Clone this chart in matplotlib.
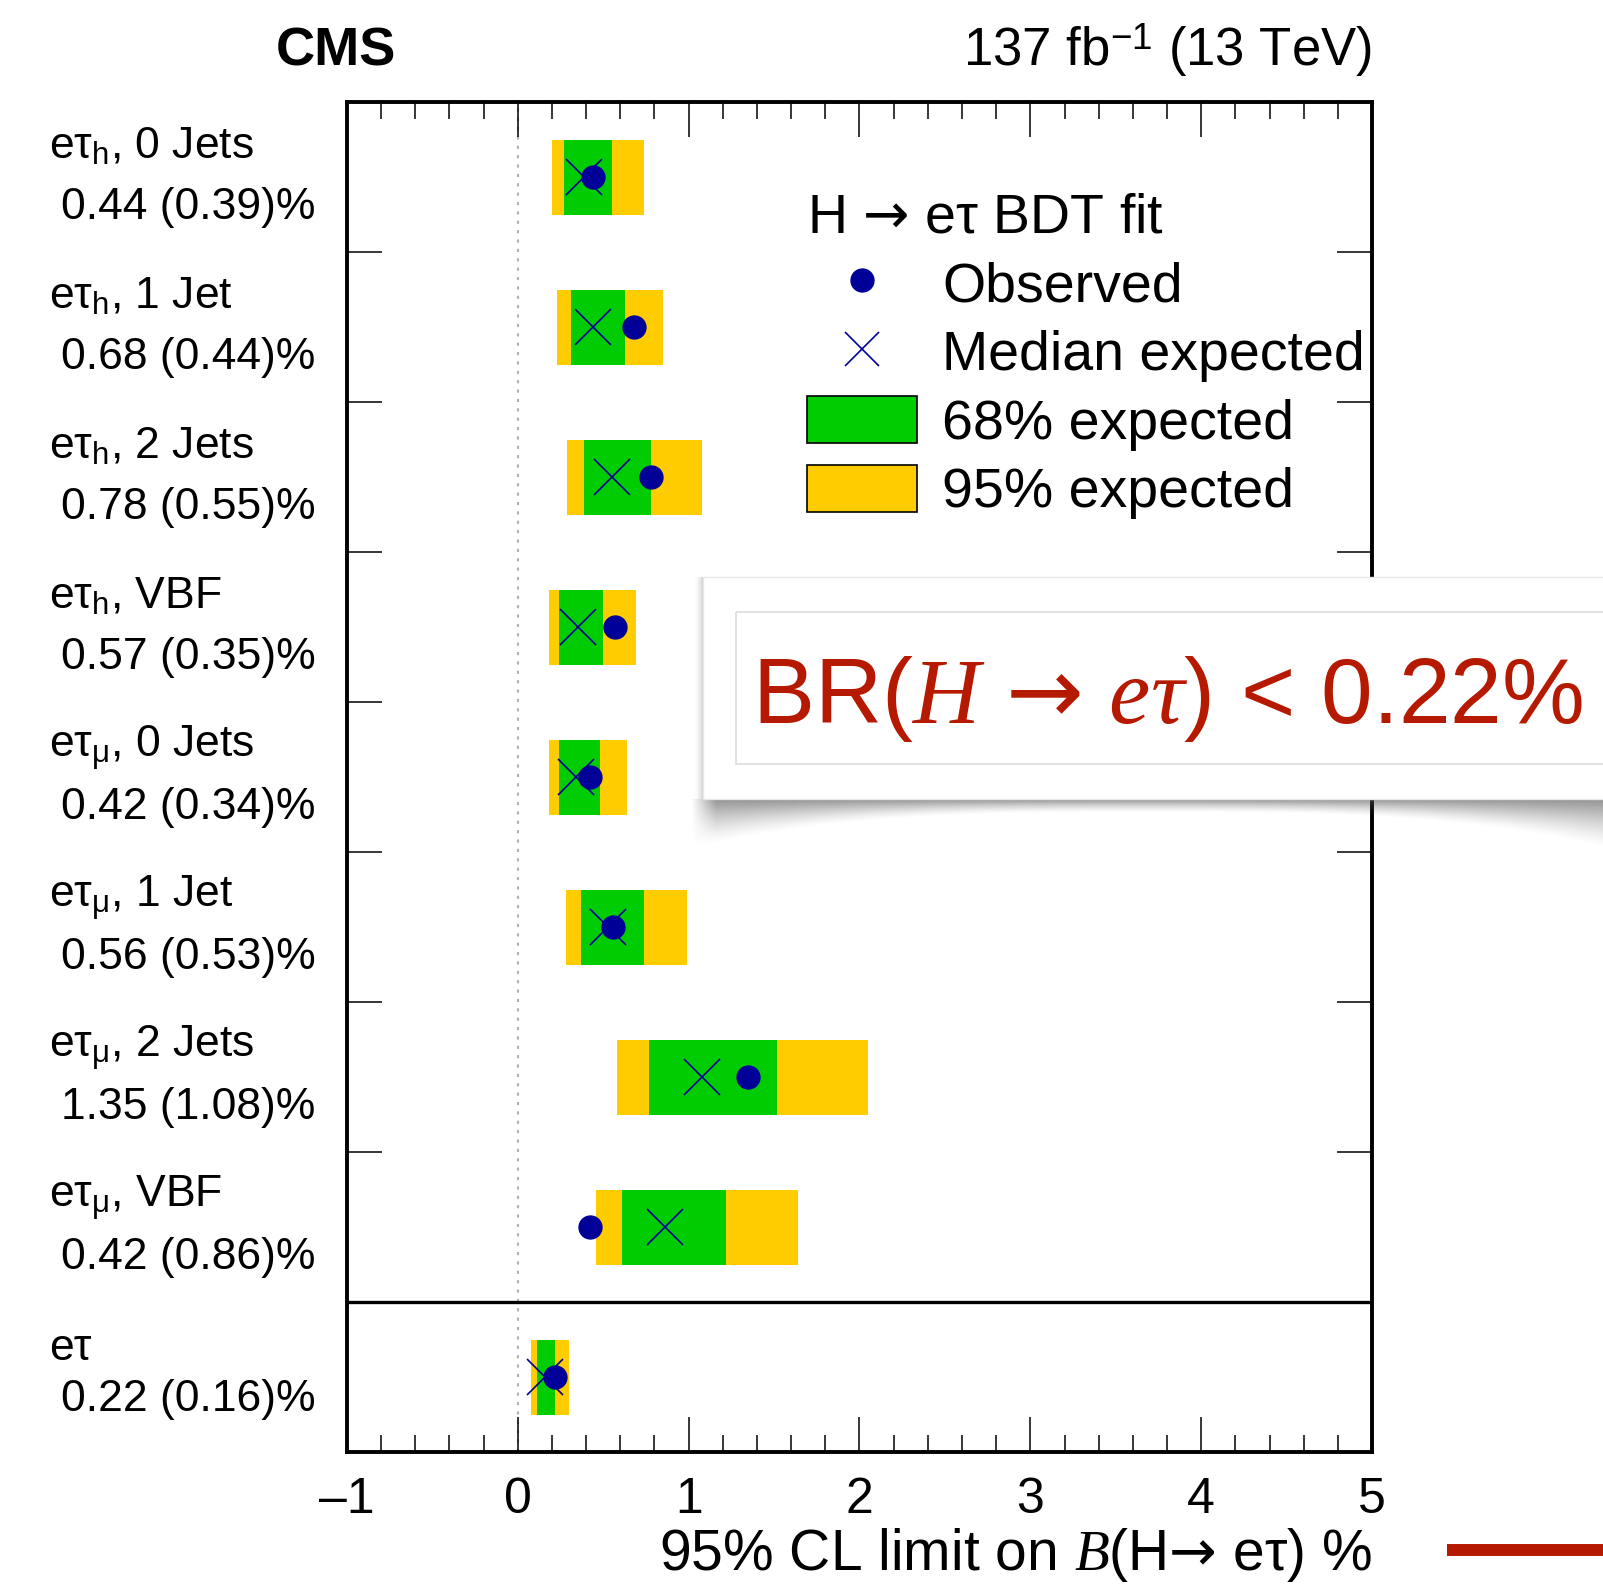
import matplotlib
matplotlib.use("Agg")
import matplotlib.pyplot as plt
import numpy as np
from matplotlib.lines import Line2D
from matplotlib.patches import Patch, Rectangle
from matplotlib.ticker import MultipleLocator

plt.rcParams['font.family'] = ['Liberation Sans', 'DejaVu Sans']
plt.rcParams['mathtext.fontset'] = 'custom'
plt.rcParams['mathtext.rm'] = 'Liberation Sans'
plt.rcParams['mathtext.it'] = 'Liberation Serif:italic'
plt.rcParams['mathtext.bf'] = 'Liberation Sans:bold'
plt.rcParams['mathtext.sf'] = 'DejaVu Sans'

ARROW = "$\\mathsf{→}$"

# channels, top to bottom
channels = ["eτ$_{\\mathrm{h}}$, 0 Jets", "eτ$_{\\mathrm{h}}$, 1 Jet", "eτ$_{\\mathrm{h}}$, 2 Jets",
            "eτ$_{\\mathrm{h}}$, VBF", "eτ$_{\\mathrm{μ}}$, 0 Jets", "eτ$_{\\mathrm{μ}}$, 1 Jet",
            "eτ$_{\\mathrm{μ}}$, 2 Jets", "eτ$_{\\mathrm{μ}}$, VBF", "eτ"]
observed = [0.44, 0.68, 0.78, 0.57, 0.42, 0.56, 1.35, 0.42, 0.22]
expected = [0.39, 0.44, 0.55, 0.35, 0.34, 0.53, 1.08, 0.86, 0.16]
band68_lo = [0.27, 0.31, 0.39, 0.24, 0.24, 0.37, 0.77, 0.61, 0.11]
band68_hi = [0.55, 0.63, 0.78, 0.50, 0.48, 0.74, 1.52, 1.22, 0.22]
band95_lo = [0.20, 0.23, 0.29, 0.18, 0.18, 0.28, 0.58, 0.46, 0.08]
band95_hi = [0.74, 0.85, 1.08, 0.69, 0.64, 0.99, 2.05, 1.64, 0.30]
xticks = [-1, 0, 1, 2, 3, 4, 5]

GREEN = '#00cc00'
YELLOW = '#ffcc00'
NAVY = '#000099'
RED = '#b51a00'

W, H = 1603, 1585
fig = plt.figure(figsize=(W / 100, H / 100), dpi=100)
ax = fig.add_axes([347 / W, 1 - 1452 / H, 1025 / W, 1350 / H])

n = len(channels)
y = np.arange(n)[::-1] + 0.5
lo95 = np.array(band95_lo); hi95 = np.array(band95_hi)
lo68 = np.array(band68_lo); hi68 = np.array(band68_hi)

ax.axvline(0, color='#b0b0b0', ls=(0, (1.5, 3)), lw=1.5, zorder=1)
ax.barh(y, hi95 - lo95, left=lo95, height=0.5, color=YELLOW, zorder=2)
ax.barh(y, hi68 - lo68, left=lo68, height=0.5, color=GREEN, zorder=3)
ax.plot(expected, y, 'x', color=NAVY, ms=26, mew=1.2, ls='none', zorder=4)
ax.plot(observed, y, 'o', color=NAVY, ms=16.5, ls='none', zorder=5)
ax.axhline(1, color='black', lw=2.4, zorder=6)

ax.set_xlim(-1, 5)
ax.set_ylim(0, n)
ax.set_xticks(xticks)
ax.set_xticklabels([str(t).replace('-', '\u2013') for t in xticks], fontsize=36)
ax.xaxis.set_minor_locator(MultipleLocator(0.2))
ax.set_yticks(range(1, n))
ax.set_yticklabels([])
ax.tick_params(axis='x', which='major', direction='in', top=True, bottom=True,
               length=25, width=1.1, pad=18)
ax.tick_params(axis='x', which='minor', direction='in', top=True, bottom=True,
               length=12.5, width=1.1)
ax.tick_params(axis='y', which='major', direction='in', left=True, right=True,
               length=25, width=1.1)
for s in ax.spines.values():
    s.set_linewidth(2.8)

ax.set_xlabel("95% CL limit on $\\mathit{B}$(H" + ARROW + " eτ) %", fontsize=41,
              loc='right', labelpad=2)

# row labels
tr = ax.get_yaxis_transform()
for i in range(n):
    off1 = 0.127 if i < n - 1 else 0.113
    off2 = -0.283 if i < n - 1 else -0.23
    ax.text(-0.2907, y[i] + off1, channels[i], transform=tr, fontsize=32,
            ha='left', va='baseline')
    ax.text(-0.279, y[i] + off2, f"{observed[i]:.2f} ({expected[i]:.2f})%", transform=tr,
            fontsize=32, ha='left', va='baseline')

handles = [Line2D([], [], marker='o', color=NAVY, ls='none', ms=16.5),
           Line2D([], [], marker='x', color=NAVY, ls='none', ms=25, mew=1.2),
           Patch(facecolor=GREEN, edgecolor='black', lw=1.2),
           Patch(facecolor=YELLOW, edgecolor='black', lw=1.2)]
leg = ax.legend(handles, ["Observed", "Median expected", "68% expected", "95% expected"],
                title="H " + ARROW + " eτ BDT fit", title_fontsize=40, fontsize=40,
                frameon=False, loc='upper left', bbox_to_anchor=(0.449, 0.9326),
                borderpad=0, borderaxespad=0, handlelength=1.98, handleheight=0.93,
                handletextpad=0.45, labelspacing=0.25, alignment='left')

fig.text(276 / W, 1 - 51 / H, "CMS", fontsize=39, fontweight='bold', ha='left', va='center')
fig.text(1372 / W, 1 - 50 / H, "137 fb$^{-1}$ (13 TeV)", fontsize=38, ha='right', va='center')

# overlay for the callout box
ov = fig.add_axes([0, 0, 1, 1], zorder=10)
ov.axis('off')

box_l, box_t, box_b = 703, 577, 799
xs = np.arange(box_l - 12, W)
ys = np.arange(box_b, box_b + 60)
X, Y = np.meshgrid(xs, ys)
depth = 13 + 36 * (np.abs(X - 1150) / 455.0) ** 3
a = np.clip(1 - (Y - box_b) / depth, 0, 1) ** 1.4 * 0.6
a *= np.clip((X - xs[0]) / 25.0, 0, 1)
img = np.zeros(a.shape + (4,))
img[..., :3] = 0.3
img[..., 3] = a
ov.imshow(img, extent=[xs[0], xs[-1] + 1, ys[-1] + 1, ys[0]], interpolation='bilinear',
          zorder=1, aspect='auto')
ys2 = np.arange(box_t, box_b)
xs2 = np.arange(box_l - 10, box_l)
X2, Y2 = np.meshgrid(xs2, ys2)
a2 = ((X2 - xs2[0]) / 10.0) ** 2 * 0.3
img2 = np.zeros(a2.shape + (4,))
img2[..., :3] = 0.3
img2[..., 3] = a2
ov.imshow(img2, extent=[xs2[0], xs2[-1] + 1, ys2[-1] + 1, ys2[0]], interpolation='bilinear',
          zorder=1, aspect='auto')
ov.set_xlim(0, W)
ov.set_ylim(H, 0)
ov.add_patch(Rectangle((box_l, box_t), W - box_l + 5, box_b - box_t, facecolor='white',
                       edgecolor='#e8e8e8', lw=1, zorder=2))
ov.add_patch(Rectangle((736, 612), W - 736 + 5, 764 - 612, facecolor='none',
                       edgecolor='#dcdcdc', lw=1.2, zorder=3))
ov.text(752, 723, "BR($\\mathit{H}$ " + ARROW + " $\\mathit{e\\tau}$) < 0.22%", fontsize=67,
        color=RED, ha='left', va='baseline', zorder=4)
ov.plot([1447, W], [1550, 1550], color=RED, lw=8.6, solid_capstyle='butt', zorder=4)

fig.savefig("out.png", dpi=100)
